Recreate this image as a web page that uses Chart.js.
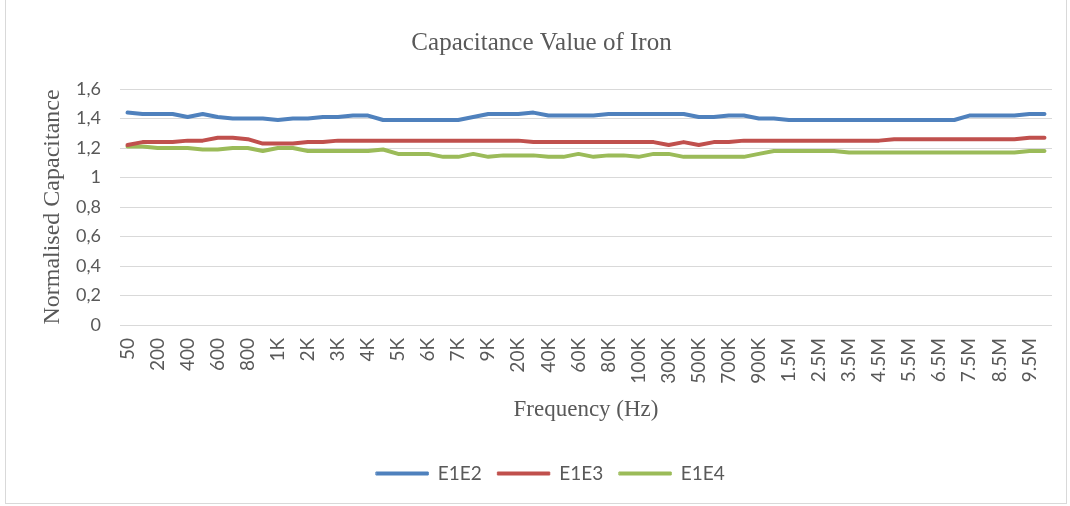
<!DOCTYPE html>
<html>
<head>
<meta charset="utf-8">
<script src="https://cdn.jsdelivr.net/npm/chart.js@4/dist/chart.umd.min.js"></script>
<style>
  html, body { margin: 0; padding: 0; background: #ffffff; }
  #wrap { position: relative; width: 1070px; height: 506px; }
</style>
</head>
<body>
<div id="wrap"><canvas id="c" width="1070" height="506"></canvas></div>
<script>
const categories = ['50','100','200','300','400','500','600','700','800','900',
  '1K','1.5K','2K','2.5K','3K','3.5K','4K','4.5K','5K','5.5K','6K','6.5K',
  '7K','8K','9K','10K','20K','30K','40K','50K','60K','70K','80K','90K',
  '100K','200K','300K','400K','500K','600K','700K','800K','900K',
  '1M','1.5M','2M','2.5M','3M','3.5M','4M','4.5M','5M','5.5M','6M','6.5M',
  '7M','7.5M','8M','8.5M','9M','9.5M','10M'];

const e1e2 = [1.44,1.43,1.43,1.43,1.41,1.43,1.41,1.40,1.40,1.40,
  1.39,1.40,1.40,1.41,1.41,1.42,1.42,1.39,1.39,1.39,
  1.39,1.39,1.39,1.41,1.43,1.43,1.43,1.44,1.42,1.42,
  1.42,1.42,1.43,1.43,1.43,1.43,1.43,1.43,1.41,1.41,
  1.42,1.42,1.40,1.40,1.39,1.39,1.39,1.39,1.39,1.39,
  1.39,1.39,1.39,1.39,1.39,1.39,1.42,1.42,1.42,1.42,
  1.43,1.43];

const e1e3 = [1.22,1.24,1.24,1.24,1.25,1.25,1.27,1.27,1.26,1.23,
  1.23,1.23,1.24,1.24,1.25,1.25,1.25,1.25,1.25,1.25,
  1.25,1.25,1.25,1.25,1.25,1.25,1.25,1.24,1.24,1.24,
  1.24,1.24,1.24,1.24,1.24,1.24,1.22,1.24,1.22,1.24,
  1.24,1.25,1.25,1.25,1.25,1.25,1.25,1.25,1.25,1.25,
  1.25,1.26,1.26,1.26,1.26,1.26,1.26,1.26,1.26,1.26,
  1.27,1.27];

const e1e4 = [1.21,1.21,1.20,1.20,1.20,1.19,1.19,1.20,1.20,1.18,
  1.20,1.20,1.18,1.18,1.18,1.18,1.18,1.19,1.16,1.16,
  1.16,1.14,1.14,1.16,1.14,1.15,1.15,1.15,1.14,1.14,
  1.16,1.14,1.15,1.15,1.14,1.16,1.16,1.14,1.14,1.14,
  1.14,1.14,1.16,1.18,1.18,1.18,1.18,1.18,1.17,1.17,
  1.17,1.17,1.17,1.17,1.17,1.17,1.17,1.17,1.17,1.17,
  1.18,1.18];

const yTickLabels = ['0','0,2','0,4','0,6','0,8','1','1,2','1,4','1,6'];

const seriesNames = ['E1E2','E1E3','E1E4'];
const seriesColors = ['#4F81BD','#C0504D','#9BBB59'];
const seriesData = [e1e2, e1e3, e1e4];

const textColor = '#595959';
const sans = 'Lato, "Open Sans", sans-serif';
const serif = '"Liberation Serif", "DejaVu Serif", serif';

const borderPlugin = {
  id: 'outerBorder',
  afterLayout(chart) {
    // the original title and legend sit slightly right of the canvas centre
    if (chart.titleBlock) { chart.titleBlock.left += 13; chart.titleBlock.right += 13; }
    if (chart.legend) { chart.legend.left += 22; chart.legend.right += 22; }
  },
  afterDraw(chart) {
    const ctx = chart.ctx;
    ctx.save();
    ctx.strokeStyle = '#d9d9d9';
    ctx.lineWidth = 1;
    ctx.strokeRect(5.5, -1, 1061, 504.5);
    ctx.restore();
  }
};

new Chart(document.getElementById('c'), {
  type: 'line',
  data: {
    labels: categories,
    datasets: seriesData.map((d, i) => ({
      label: seriesNames[i],
      data: d,
      borderColor: seriesColors[i],
      backgroundColor: seriesColors[i],
      borderWidth: 4,
      pointRadius: 0,
      pointHoverRadius: 0,
      tension: 0,
      borderJoinStyle: 'round',
      borderCapStyle: 'round'
    }))
  },
  options: {
    responsive: false,
    animation: false,
    devicePixelRatio: 1,
    layout: { padding: { left: 5, right: 18, top: 0, bottom: 13 } },
    plugins: {
      title: {
        display: true,
        text: 'Capacitance Value of Iron',
        color: textColor,
        font: { family: serif, size: 25, weight: 'normal' },
        padding: { top: 28, bottom: 31 }
      },
      legend: {
        position: 'bottom',
        labels: {
          color: textColor,
          font: { family: sans, size: 19 },
          boxWidth: 52,
          boxHeight: 3,
          padding: 16,
          generateLabels(chart) {
            const items = Chart.defaults.plugins.legend.labels.generateLabels(chart);
            items.forEach(it => { it.lineWidth = 1; });
            return items;
          }
        }
      },
      tooltip: { enabled: false }
    },
    scales: {
      x: {
        type: 'category',
        offset: true,
        grid: { display: false, drawTicks: false },
        border: { display: false },
        ticks: {
          autoSkip: false,
          minRotation: 90,
          maxRotation: 90,
          padding: 13,
          color: textColor,
          font: { family: sans, size: 19 },
          callback: (v, i) => (i % 2 === 0 ? categories[i] : '')
        },
        title: {
          display: true,
          text: 'Frequency (Hz)',
          color: textColor,
          font: { family: serif, size: 23 },
          padding: { top: 0, bottom: 24 }
        },
        afterFit(scale) {
          scale.height = 123;
          scale.paddingLeft = 0;
          scale.paddingRight = 0;
        }
      },
      y: {
        min: 0,
        max: 1.6,
        grid: { color: '#d9d9d9', lineWidth: 1, drawTicks: false },
        border: { display: false },
        ticks: {
          stepSize: 0.2,
          padding: 19,
          color: textColor,
          font: { family: sans, size: 18 },
          callback: (v, i) => yTickLabels[i]
        },
        title: {
          display: true,
          text: 'Normalised Capacitance',
          color: textColor,
          font: { family: serif, size: 24 },
          padding: { top: 33, bottom: 0 }
        },
        afterFit(scale) { scale.width = 115; }
      }
    }
  },
  plugins: [borderPlugin]
});
</script>
</body>
</html>
